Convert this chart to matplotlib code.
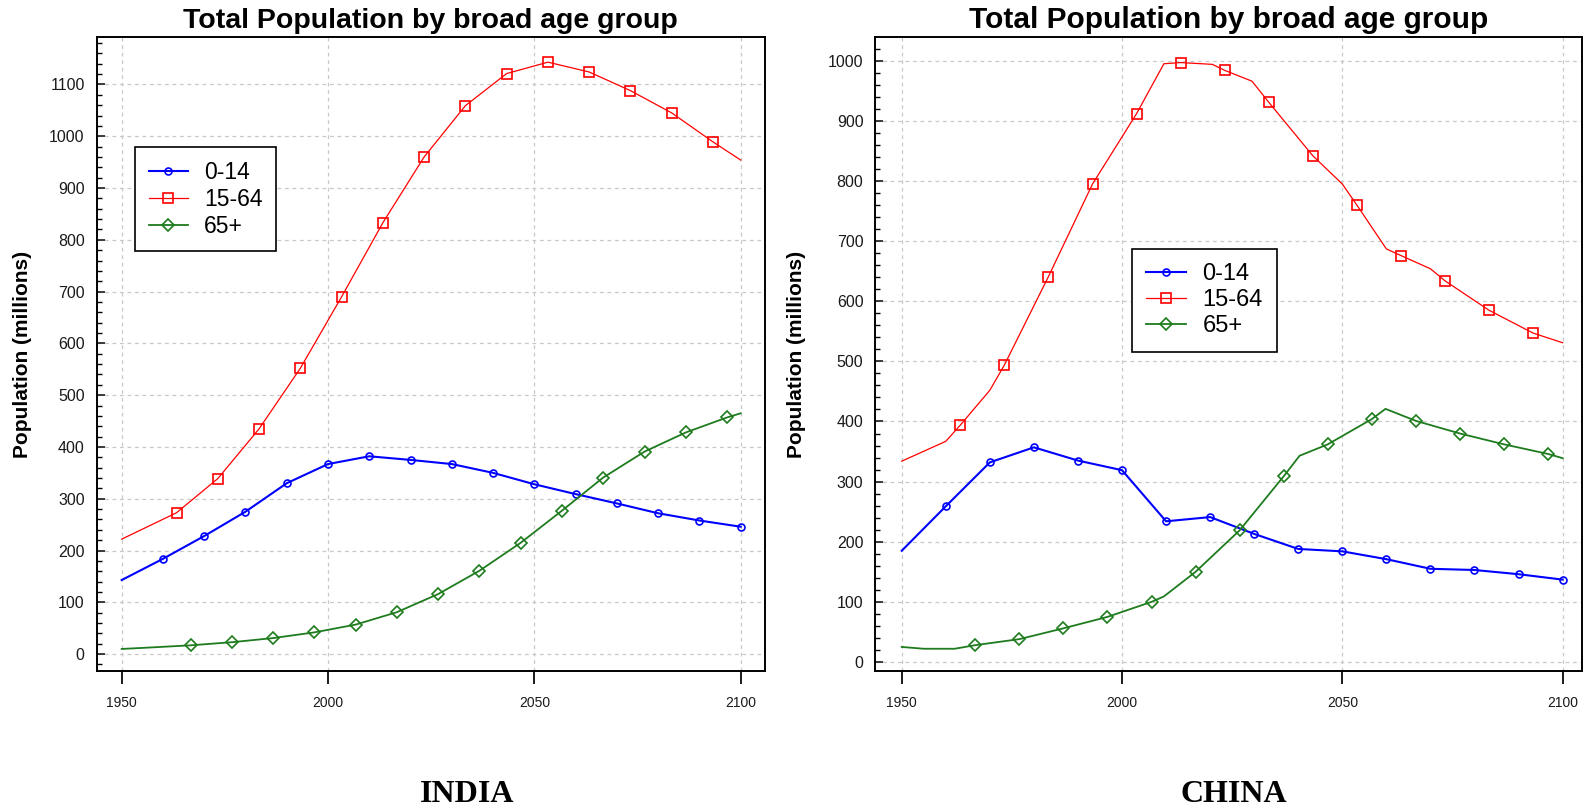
import matplotlib
matplotlib.use("Agg")
import matplotlib.pyplot as plt
from matplotlib.ticker import MultipleLocator, FixedLocator

plt.rcParams["font.family"] = ["Liberation Sans", "DejaVu Sans"]

# ---------------------------------------------------------------- data
AGE_GROUPS = ["0-14", "15-64", "65+"]
TITLE = "Total Population by broad age group"
Y_LABEL = "Population (millions)"
X_TICKS = [1950, 2000, 2050, 2100]

# India
india_young_years = [1950, 1960, 1970, 1980, 1990, 2000, 2010, 2020, 2030,
                     2040, 2050, 2060, 2070, 2080, 2090, 2100]
india_young_vals = [143, 184, 228, 275, 330, 367, 382, 375, 367,
                    350, 328, 309, 291, 272, 258, 246]
india_young_marks = [1960, 1970, 1980, 1990, 2000, 2010, 2020, 2030,
                     2040, 2050, 2060, 2070, 2080, 2090, 2100]

india_work_years = [1950, 1963.3, 1973.3, 1983.3, 1993.3, 2003.3, 2013.3,
                    2023.3, 2033.3, 2043.3, 2053.3, 2063.3, 2073.3, 2083.3,
                    2093.3, 2100]
india_work_vals = [222, 273, 339, 435, 552, 690, 833,
                   960, 1059, 1121, 1143, 1124, 1088, 1045,
                   989, 954]
india_work_marks = [1963.3, 1973.3, 1983.3, 1993.3, 2003.3, 2013.3, 2023.3,
                    2033.3, 2043.3, 2053.3, 2063.3, 2073.3, 2083.3, 2093.3]

india_old_years = [1950, 1955, 1966.7, 1976.7, 1986.7, 1996.7, 2006.7,
                   2016.7, 2026.7, 2036.7, 2046.7, 2056.7, 2066.7, 2076.7,
                   2086.7, 2096.7, 2100]
india_old_vals = [10, 12, 17, 23, 31, 42, 57,
                  81, 116, 161, 215, 277, 341, 391,
                  428, 457, 465]
india_old_marks = [1966.7, 1976.7, 1986.7, 1996.7, 2006.7, 2016.7, 2026.7,
                   2036.7, 2046.7, 2056.7, 2066.7, 2076.7, 2086.7, 2096.7]

# China
china_young_years = [1950, 1960, 1970, 1980, 1990, 2000, 2010, 2020, 2030,
                     2040, 2050, 2060, 2070, 2080, 2090, 2100]
china_young_vals = [185, 259, 332, 357, 335, 319, 234, 241, 213,
                    188, 184, 171, 155, 153, 146, 137]
china_young_marks = [1960, 1970, 1980, 1990, 2000, 2010, 2020, 2030,
                     2040, 2050, 2060, 2070, 2080, 2090, 2100]

china_work_years = [1950, 1960, 1963.3, 1970, 1973.3, 1983.3, 1993.3, 2003.3,
                    2009.5, 2013.3, 2020.5, 2023.3, 2029.5, 2033.3, 2043.3,
                    2050, 2053.3, 2060, 2063.3, 2070, 2073.3, 2083.3, 2093.3,
                    2100]
china_work_vals = [334, 367, 394, 452, 494, 641, 795, 912,
                   995, 997, 994, 984, 966, 931, 842,
                   795, 760, 687, 676, 654, 634, 585, 547,
                   531]
china_work_marks = [1963.3, 1973.3, 1983.3, 1993.3, 2003.3, 2013.3, 2023.3,
                    2033.3, 2043.3, 2053.3, 2063.3, 2073.3, 2083.3, 2093.3]

china_old_years = [1950, 1955, 1962, 1966.7, 1976.7, 1986.7, 1996.7, 2006.7,
                   2009.5, 2016.7, 2026.7, 2036.7, 2040.3, 2046.7, 2056.7,
                   2059.8, 2066.7, 2076.7, 2086.7, 2096.7, 2100]
china_old_vals = [25, 22, 22, 28, 38, 56, 75, 100,
                  109, 150, 219, 309, 343, 362, 404,
                  421, 401, 380, 362, 346, 339]
china_old_marks = [1966.7, 1976.7, 1986.7, 1996.7, 2006.7, 2016.7, 2026.7,
                   2036.7, 2046.7, 2056.7, 2066.7, 2076.7, 2086.7, 2096.7]

# ---------------------------------------------------------------- style
COLORS = ["#0000ff", "#ff0000", "#1e7b1e"]
MARKERS = ["o", "s", "D"]
MARKER_SIZES = [5.0, 7.0, 6.0]
LINE_WIDTHS = [1.5, 0.9, 1.3]

W, H = 1592, 809
fig = plt.figure(figsize=(W / 100, H / 100), dpi=100)
fig.patch.set_facecolor("white")


def px_rect(left, top, right, bottom):
    return [left / W, 1 - bottom / H, (right - left) / W, (bottom - top) / H]


def draw_panel(ax, series, ylim, xlim, ymax_tick, legend_xy, legend_fs,
               title_fs, ylabel_x):
    for (yrs, vals, marks), name, c, m, ms, lw in zip(
            series, AGE_GROUPS, COLORS, MARKERS, MARKER_SIZES, LINE_WIDTHS):
        idx = [i for i, y in enumerate(yrs) if y in marks]
        ax.plot(yrs, vals, color=c, lw=lw, marker=m, ms=ms, mfc="none",
                mec=c, mew=1.2, markevery=idx, label=name, zorder=3)

    ax.set_xlim(*xlim)
    ax.set_ylim(*ylim)
    ax.xaxis.set_major_locator(FixedLocator(X_TICKS))
    ax.yaxis.set_major_locator(FixedLocator(list(range(0, ymax_tick + 1, 100))))
    ax.yaxis.set_minor_locator(MultipleLocator(20))
    ax.tick_params(axis="y", which="major", direction="in", length=6,
                   width=1.2, pad=8.5, labelsize=11.5, colors="#1a1a1a",
                   left=True, right=False)
    ax.tick_params(axis="y", which="minor", direction="in", length=3.6,
                   width=1.0, left=True, right=False)
    ax.tick_params(axis="x", which="major", direction="out", length=9.5,
                   width=1.4, pad=8.5, labelsize=10, colors="#1a1a1a",
                   bottom=True, top=False)
    ax.tick_params(axis="x", which="minor", bottom=False, top=False)

    ax.grid(True, which="major", color="#c8c8c8", linestyle=(0, (3, 3)),
            linewidth=0.9)
    ax.set_axisbelow(True)
    for sp in ax.spines.values():
        sp.set_linewidth(1.4)
        sp.set_color("black")

    ax.set_ylabel(Y_LABEL, fontsize=15, fontweight="bold")
    ax.yaxis.label.set_va("center")
    ax.yaxis.set_label_coords(ylabel_x, 0.5)

    pos = ax.get_position()
    fig.text(pos.x0 + pos.width / 2, 1 - 28 / H, TITLE, ha="center",
             va="baseline", fontsize=title_fs, fontweight="bold")

    leg = ax.legend(loc="upper left",
                    bbox_to_anchor=(legend_xy[0] / W, 1 - legend_xy[1] / H),
                    bbox_transform=fig.transFigure, borderaxespad=0,
                    fontsize=legend_fs, frameon=True, fancybox=False,
                    framealpha=1, edgecolor="black", borderpad=0.6,
                    labelspacing=0.17, handlelength=1.7, handletextpad=0.7,
                    numpoints=1)
    leg.get_frame().set_linewidth(1.2)


ax_india = fig.add_axes(px_rect(96.5, 37.3, 765, 670.7))
draw_panel(ax_india,
           [(india_young_years, india_young_vals, india_young_marks),
            (india_work_years, india_work_vals, india_work_marks),
            (india_old_years, india_old_vals, india_old_marks)],
           ylim=(-32, 1191), xlim=(1943.9, 2105.9), ymax_tick=1100,
           legend_xy=(135, 147), legend_fs=16.5, title_fs=20.5,
           ylabel_x=-0.1107)

ax_china = fig.add_axes(px_rect(875.3, 37.3, 1582, 670.7))
draw_panel(ax_china,
           [(china_young_years, china_young_vals, china_young_marks),
            (china_work_years, china_work_vals, china_work_marks),
            (china_old_years, china_old_vals, china_old_marks)],
           ylim=(-14.5, 1039), xlim=(1944.0, 2104.4), ymax_tick=1000,
           legend_xy=(1131.7, 249.3), legend_fs=17, title_fs=21.5,
           ylabel_x=-0.1115)

fig.text(467 / W, 1 - 802 / H, "INDIA", ha="center", va="baseline",
         family="Liberation Serif", fontweight="bold", fontsize=23)
fig.text(1234 / W, 1 - 802 / H, "CHINA", ha="center", va="baseline",
         family="Liberation Serif", fontweight="bold", fontsize=23)

fig.savefig("out.png", dpi=100, facecolor="white")
